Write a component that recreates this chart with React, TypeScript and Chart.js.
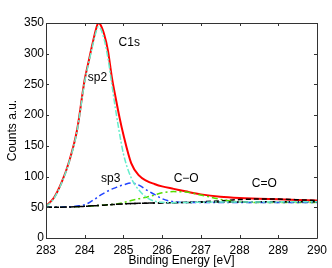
import React, { useEffect, useRef } from "react";
import { Chart, registerables } from "chart.js";

Chart.register(...registerables);

// Binding energy grid (eV)
const energy = [283, 283.2, 283.4, 283.6, 283.8, 284.0, 284.1, 284.2, 284.3, 284.35, 284.4, 284.5, 284.6, 284.7, 284.8, 284.9, 285.0, 285.2, 285.4, 285.6, 285.8, 286.0, 286.3, 286.6, 287.0, 287.5, 288.0, 288.5, 289.0, 289.5, 290.0];

// Series (counts, a.u.)
const totalC1s = [52, 65, 90, 125, 175, 258, 287, 316, 342, 350, 348, 332, 305, 262, 228, 196, 168, 122, 102, 93, 88, 84, 80, 76, 71, 67, 65, 64, 63, 62, 61];
const sp2 = [51, 64, 89, 124, 173, 255, 284, 312, 337, 344, 342, 324, 293, 250, 208, 170, 137, 98, 78, 66, 60, 58, 57.5, 57.8, 58.2, 58.5, 58.6, 58.7, 58.8, 58.9, 59];
const sp3 = [50, 50.1, 50.3, 50.8, 52, 54, 57, 61, 65, 67.5, 69.5, 73, 76.5, 79.5, 82, 84.5, 86.5, 89.5, 86, 78, 71, 64, 59, 57.8, 57.8, 57.8, 57.8, 57.8, 57.8, 57.8, 57.8];
const cO = [50, 50.1, 50.4, 50.8, 51.2, 51.6, 51.9, 52.2, 52.6, 52.8, 53, 53.5, 54, 54.5, 55, 56, 57.5, 61, 64, 66.5, 70, 73.5, 75.5, 75, 70, 63, 58.5, 57.8, 57.8, 57.8, 57.8];
const cDoubleO = [50, 50.05, 50.2, 50.5, 51, 51.5, 51.9, 52.3, 52.7, 52.9, 53.1, 53.5, 54, 54.4, 54.8, 55.2, 55.5, 56, 56.4, 56.7, 57, 57.2, 57.5, 58, 59, 60.5, 62.5, 63.5, 63.3, 62.3, 61];
const background = [50, 50.05, 50.2, 50.5, 51, 51.5, 51.9, 52.3, 52.7, 52.9, 53.1, 53.5, 54, 54.4, 54.8, 55.2, 55.5, 56, 56.4, 56.7, 57, 57.2, 57.5, 57.8, 58.2, 58.5, 58.7, 58.8, 58.9, 59, 59];

// Axis ticks
const xTickValues = [283, 284, 285, 286, 287, 288, 289, 290];
const yTickValues = [0, 50, 100, 150, 200, 250, 300, 350];

// In-plot labels (data coordinates)
const labelTexts = ["C1s", "sp2", "sp3", "C\u2212O", "C=O"];
const labelX = [285.15, 284.33, 284.67, 286.62, 288.64];
const labelY = [318, 261, 96, 96, 88];

const xTitle = "Binding Energy [eV]";
const yTitle = "Counts a.u.";

const FONT = "'Liberation Sans', Arial, Helvetica, sans-serif";

function pts(values: number[]) {
  return energy.map((e, i) => ({ x: e, y: values[i] }));
}

const decorPlugin = {
  id: "decor",
  afterDraw(chart: any) {
    const { ctx, chartArea } = chart;
    const xs = chart.scales.x;
    const ys = chart.scales.y;
    const { left, right, top, bottom } = chartArea;
    ctx.save();
    ctx.strokeStyle = "#333333";
    ctx.lineWidth = 1;
    ctx.beginPath();
    ctx.rect(Math.round(left) + 0.5, Math.round(top) + 0.5, Math.round(right - left), Math.round(bottom - top));
    ctx.stroke();
    const tl = 3;
    ctx.beginPath();
    xTickValues.forEach((v) => {
      const px = Math.round(xs.getPixelForValue(v)) + 0.5;
      ctx.moveTo(px, bottom);
      ctx.lineTo(px, bottom - tl);
      ctx.moveTo(px, top);
      ctx.lineTo(px, top + tl);
    });
    yTickValues.forEach((v) => {
      const py = Math.round(ys.getPixelForValue(v)) + 0.5;
      ctx.moveTo(left, py);
      ctx.lineTo(left + tl, py);
      ctx.moveTo(right, py);
      ctx.lineTo(right - tl, py);
    });
    ctx.stroke();

    ctx.fillStyle = "#000000";
    ctx.font = `12px ${FONT}`;
    ctx.textAlign = "center";
    ctx.textBaseline = "middle";
    labelTexts.forEach((t, i) => {
      ctx.fillText(t, xs.getPixelForValue(labelX[i]), ys.getPixelForValue(labelY[i]));
    });

    ctx.fillText(xTitle, (left + right) / 2, 261);
    ctx.translate(13, (top + bottom) / 2);
    ctx.rotate(-Math.PI / 2);
    ctx.fillText(yTitle, 0, 0);
    ctx.restore();
  },
};

export default function App() {
  const canvasRef = useRef<HTMLCanvasElement | null>(null);

  useEffect(() => {
    if (!canvasRef.current) return;
    const common = {
      pointRadius: 0,
      fill: false,
      cubicInterpolationMode: "monotone" as const,
      borderWidth: 1.5,
    };
    const chart = new Chart(canvasRef.current, {
      type: "line",
      data: {
        datasets: [
          { ...common, label: "sp2", data: pts(sp2), borderColor: "#66eecc", borderDash: [6, 2, 2, 2] },
          { ...common, label: "background", data: pts(background), borderColor: "#000000", borderDash: [6, 3, 2, 3] },
          { ...common, label: "sp3", data: pts(sp3), borderColor: "#2244ff", borderDash: [6, 3, 2, 3] },
          { ...common, label: "C-O", data: pts(cO), borderColor: "#55dd00", borderDash: [6, 3, 2, 3] },
          { ...common, label: "C=O", data: pts(cDoubleO), borderColor: "#000000", borderDash: [5, 3] },
          { ...common, label: "C1s", data: pts(totalC1s), borderColor: "#ff0000", borderWidth: 2 },
        ],
      },
      options: {
        responsive: false,
        animation: false,
        layout: { padding: { top: 23, right: 13, left: 0, bottom: 0 } },
        plugins: { legend: { display: false }, tooltip: { enabled: false } },
        scales: {
          x: {
            type: "linear",
            min: 283,
            max: 290,
            grid: { display: false, drawTicks: false },
            border: { display: false },
            ticks: {
              stepSize: 1,
              padding: 5,
              color: "#000000",
              font: { family: FONT, size: 12 },
              maxRotation: 0,
              autoSkip: false,
            },
            afterFit: (scale: any) => {
              scale.height = 30;
            },
          },
          y: {
            type: "linear",
            min: 0,
            max: 350,
            grid: { display: false, drawTicks: false },
            border: { display: false },
            ticks: {
              stepSize: 50,
              padding: 2,
              color: "#000000",
              font: { family: FONT, size: 12 },
            },
            afterFit: (scale: any) => {
              scale.width = 46;
            },
          },
        },
      },
      plugins: [decorPlugin],
    });
    return () => chart.destroy();
  }, []);

  return (
    <div style={{ position: "fixed", left: 0, top: 0, width: 332, height: 268, background: "#ffffff" }}>
      <canvas ref={canvasRef} width={332} height={268} />
    </div>
  );
}
